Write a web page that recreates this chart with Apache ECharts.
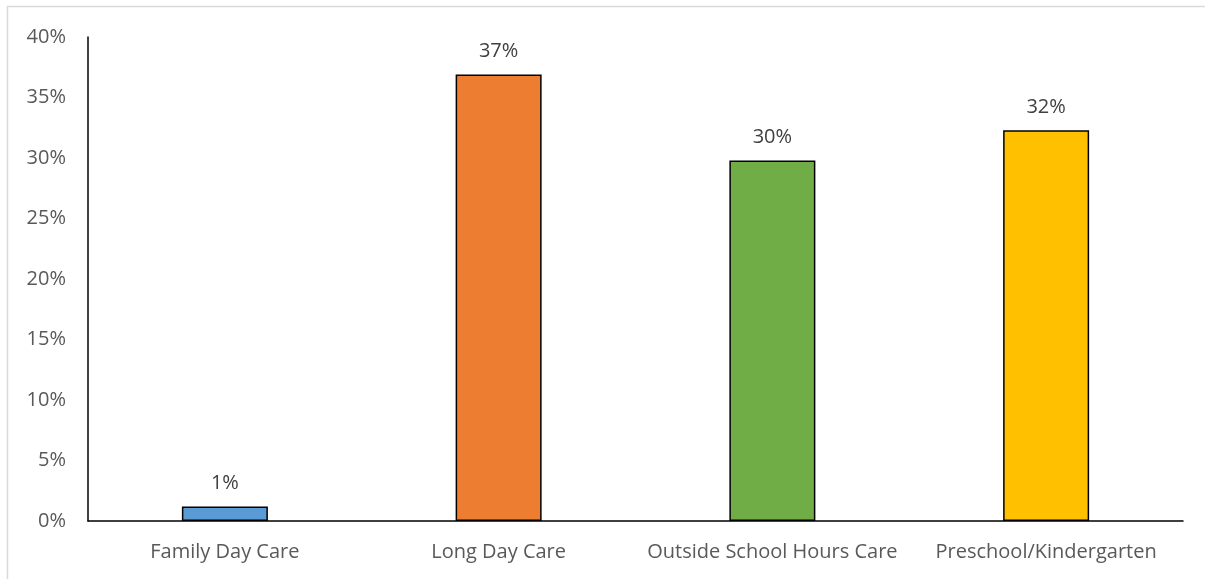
<!DOCTYPE html>
<html>
<head>
<meta charset="utf-8">
<script src="https://cdn.jsdelivr.net/npm/echarts@6/dist/echarts.min.js"></script>
<style>
  html, body { margin: 0; padding: 0; background: #fff; }
  #main { width: 1205px; height: 579px; }
</style>
</head>
<body>
<div id="main"></div>
<script>
var categories = ['Family Day Care', 'Long Day Care', 'Outside School Hours Care', 'Preschool/Kindergarten'];
var shares = [1.2, 36.9, 29.8, 32.3];
var barColors = ['#5B9BD5', '#ED7D31', '#70AD47', '#FFC000'];

var myChart = echarts.init(document.getElementById('main'));

var barData = [];
for (var i = 0; i < shares.length; i++) {
    barData.push({
        value: shares[i],
        itemStyle: { color: barColors[i] }
    });
}

var option = {
    animation: false,
    textStyle: { fontFamily: 'Open Sans' },
    graphic: [{
        type: 'rect',
        shape: { x: 7.5, y: 6.5, width: 1220, height: 600 },
        style: { fill: 'none', stroke: '#d9d9d9', lineWidth: 1.5 },
        silent: true
    }],
    grid: { left: 88, right: 22, top: 37, bottom: 58 },
    xAxis: {
        type: 'category',
        data: categories,
        axisLine: { lineStyle: { color: '#000', width: 1.5 } },
        axisTick: { show: false },
        axisLabel: { color: '#595959', fontSize: 20, margin: 21, interval: 0 }
    },
    yAxis: {
        type: 'value',
        min: 0,
        max: 40,
        interval: 5,
        axisLine: { show: true, lineStyle: { color: '#000', width: 1.5 } },
        axisTick: { show: false },
        splitLine: { show: false },
        axisLabel: {
            color: '#595959', fontSize: 20, margin: 22,
            formatter: function (v) { return v + '%'; }
        }
    },
    series: [{
        type: 'bar',
        data: barData,
        barWidth: 86,
        itemStyle: { borderColor: '#000', borderWidth: 1.5 },
        label: {
            show: true,
            position: 'top',
            distance: 13,
            color: '#404040',
            fontSize: 20,
            formatter: function (p) { return Math.round(p.value) + '%'; }
        }
    }]
};
myChart.setOption(option);
</script>
</body>
</html>
